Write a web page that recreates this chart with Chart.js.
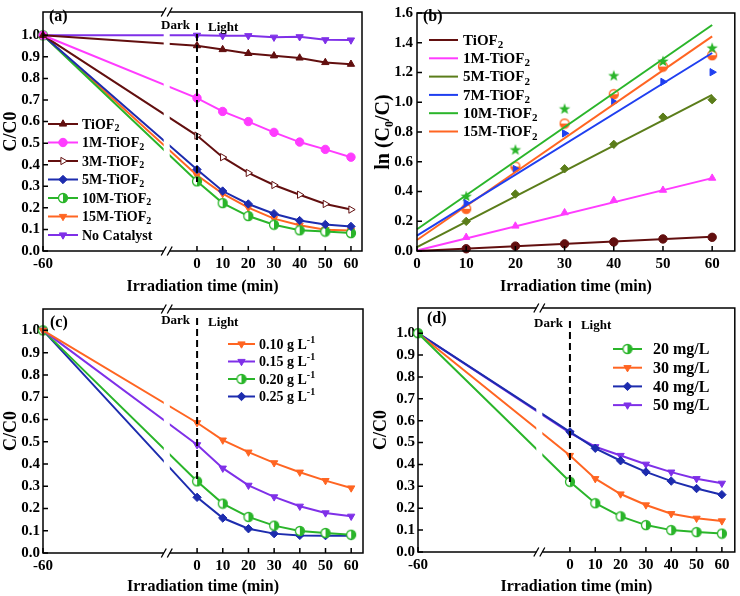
<!DOCTYPE html>
<html>
<head>
<meta charset="utf-8">
<script src="https://cdn.jsdelivr.net/npm/chart.js@4.4.1/dist/chart.umd.min.js"></script>
<style>
  body { margin: 0; background: #fff; }
  #wrap { position: relative; width: 740px; height: 596px; overflow: hidden; }
  canvas { position: absolute; }
</style>
</head>
<body>
<div id="wrap">
  <canvas id="pa" width="370" height="296" style="left:0;top:0"></canvas>
  <canvas id="pb" width="370" height="296" style="left:370px;top:0"></canvas>
  <canvas id="pc" width="370" height="300" style="left:0;top:296px"></canvas>
  <canvas id="pd" width="370" height="300" style="left:370px;top:296px"></canvas>
</div>
<script>
// ---- data ----
const timeX = [-60, 0, 10, 20, 30, 40, 50, 60];
const timeTicks = [-60, 0, 10, 20, 30, 40, 50, 60];
const ratioTicks = [0, 0.1, 0.2, 0.3, 0.4, 0.5, 0.6, 0.7, 0.8, 0.9, 1.0];

// (a) catalysts
const aLabels = ['TiOF_2', '1M-TiOF_2', '3M-TiOF_2', '5M-TiOF_2', '10M-TiOF_2', '15M-TiOF_2', 'No Catalyst'];
const aTiOF2 = [1.0, 0.952, 0.934, 0.916, 0.905, 0.895, 0.874, 0.866];
const a1M = [1.0, 0.709, 0.647, 0.600, 0.550, 0.505, 0.471, 0.435];
const a3M = [1.0, 0.535, 0.435, 0.362, 0.306, 0.261, 0.218, 0.192];
const a5M = [1.0, 0.378, 0.278, 0.218, 0.173, 0.141, 0.123, 0.114];
const a10M = [1.0, 0.323, 0.222, 0.162, 0.122, 0.096, 0.090, 0.083];
const a15M = [1.0, 0.351, 0.266, 0.201, 0.150, 0.119, 0.099, 0.095];
const aNoCat = [1.0, 1.0, 0.998, 0.998, 0.991, 0.993, 0.979, 0.978];

// (b) kinetics
const bLabels = ['TiOF_2', '1M-TiOF_2', '5M-TiOF_2', '7M-TiOF_2', '10M-TiOF_2', '15M-TiOF_2'];
const kinX = [10, 20, 30, 40, 50, 60];
const kinTicks = [0, 10, 20, 30, 40, 50, 60];
const lnTicks = [0, 0.2, 0.4, 0.6, 0.8, 1.0, 1.2, 1.4, 1.6];
const bTiOF2 = [0.015, 0.033, 0.048, 0.061, 0.081, 0.092];
const b1M = [0.092, 0.168, 0.258, 0.341, 0.409, 0.490];
const b5M = [0.199, 0.383, 0.553, 0.717, 0.900, 1.017];
const b7M = [0.321, 0.551, 0.791, 1.001, 1.137, 1.202];
const b10M = [0.369, 0.682, 0.957, 1.180, 1.277, 1.366];
const b15M = [0.284, 0.568, 0.857, 1.054, 1.240, 1.316];
const fitX = [0, 60];
const fitTiOF2 = [0.000, 0.096];
const fit1M = [0.004, 0.490];
const fit5M = [0.026, 1.049];
const fit7M = [0.103, 1.331];
const fit10M = [0.146, 1.519];
const fit15M = [0.074, 1.443];

// (c) dosage
const cLabels = ['0.10 g L^-1', '0.15 g L^-1', '0.20 g L^-1', '0.25 g L^-1'];
const c010 = [1.0, 0.585, 0.507, 0.453, 0.405, 0.363, 0.325, 0.292];
const c015 = [1.0, 0.486, 0.381, 0.304, 0.252, 0.210, 0.180, 0.165];
const c020 = [1.0, 0.322, 0.222, 0.162, 0.123, 0.099, 0.090, 0.082];
const c025 = [1.0, 0.250, 0.157, 0.109, 0.087, 0.079, 0.078, 0.078];

// (d) initial concentration
const dLabels = ['20 mg/L', '30 mg/L', '40 mg/L', '50 mg/L'];
const d20 = [1.0, 0.321, 0.223, 0.163, 0.123, 0.100, 0.091, 0.084];
const d30 = [1.0, 0.441, 0.335, 0.265, 0.215, 0.175, 0.154, 0.142];
const d40 = [1.0, 0.549, 0.474, 0.417, 0.366, 0.324, 0.290, 0.262];
const d50 = [1.0, 0.544, 0.481, 0.441, 0.401, 0.365, 0.335, 0.314];

// ---- styles ----
const MAROON = '#620f0f', MAGENTA = '#ff3cff', BLUE = '#1d2cae', BBLUE = '#1f3ff0';
const GREEN = '#2ab52a', ORANGE = '#ff6522', PURPLE = '#7f30e8', OLIVE = '#5b7d1a';
const FONT = 'Liberation Serif';

Chart.defaults.font.family = FONT;
Chart.defaults.font.weight = 'bold';
Chart.defaults.color = '#000';

function halfCircle(color, side) {
  const r = 4.5, c = document.createElement('canvas');
  c.width = c.height = 12;
  const g = c.getContext('2d');
  g.fillStyle = '#fff';
  g.beginPath(); g.arc(6, 6, r, 0, Math.PI * 2); g.fill();
  g.fillStyle = color;
  g.beginPath();
  if (side === 'right') g.arc(6, 6, r, -Math.PI / 2, Math.PI / 2);
  else g.arc(6, 6, r, 0, Math.PI);
  g.closePath(); g.fill();
  g.strokeStyle = color; g.lineWidth = 1.3;
  g.beginPath(); g.arc(6, 6, r, 0, Math.PI * 2); g.stroke();
  return c;
}

function starMark(color) {
  const c = document.createElement('canvas');
  c.width = c.height = 14;
  const g = c.getContext('2d');
  g.fillStyle = color;
  g.beginPath();
  for (let i = 0; i < 10; i++) {
    const r = i % 2 ? 2.4 : 6, a = -Math.PI / 2 + i * Math.PI / 5;
    g.lineTo(7 + r * Math.cos(a), 7.5 + r * Math.sin(a));
  }
  g.closePath(); g.fill();
  return c;
}

const mk = {
  up: { pointStyle: 'triangle', pointRotation: 0 },
  down: { pointStyle: 'triangle', pointRotation: 180 },
  right: { pointStyle: 'triangle', pointRotation: 90 },
  circle: { pointStyle: 'circle', pointRotation: 0 },
  diamond: { pointStyle: 'rectRot', pointRotation: 0 }
};

function series(label, xs, ys, color, marker, extra) {
  return Object.assign({
    label: label,
    data: xs.map((x, i) => ({ x: x, y: ys[i] })),
    borderColor: color,
    backgroundColor: color,
    pointBackgroundColor: color,
    pointBorderColor: color,
    borderWidth: 2,
    pointRadius: 4.2,
    pointBorderWidth: 1,
    tension: 0,
    clip: false
  }, marker, extra || {});
}

// text with _sub and ^sup
function richText(ctx, str, x, y, size) {
  const parts = str.split(/([_^])(\S+)/);
  let cx = x;
  for (let i = 0; i < parts.length; i++) {
    const p = parts[i];
    if (p === '_' || p === '^') {
      const t = parts[++i];
      ctx.font = 'bold ' + Math.round(size * 0.72) + 'px ' + FONT;
      ctx.fillText(t, cx, y + (p === '_' ? size * 0.28 : -size * 0.36));
      cx += ctx.measureText(t).width;
    } else if (p) {
      ctx.font = 'bold ' + size + 'px ' + FONT;
      ctx.fillText(p, cx, y);
      cx += ctx.measureText(p).width;
    }
  }
}

const decor = {
  id: 'decor',
  afterDatasetsDraw(chart, args, o) {
    const { ctx, chartArea: a, scales: { x, y } } = chart;
    ctx.save();
    ctx.strokeStyle = '#000';
    ctx.lineWidth = 1.5;
    ctx.strokeRect(a.left, a.top, a.right - a.left, a.bottom - a.top);
    ctx.beginPath();
    x.ticks.forEach(t => { const px = x.getPixelForValue(t.value); ctx.moveTo(px, a.bottom); ctx.lineTo(px, a.bottom - 5); });
    y.ticks.forEach(t => { const py = y.getPixelForValue(t.value); ctx.moveTo(a.left, py); ctx.lineTo(a.left + 5, py); });
    ctx.stroke();

    ctx.fillStyle = '#000';
    ctx.textBaseline = 'middle';
    if (o.breakAt !== undefined) {
      const bx = x.getPixelForValue(o.breakAt);
      ctx.fillStyle = '#fff';
      ctx.fillRect(bx - 3, a.top - 3, 6, a.bottom - a.top + 6);
      ctx.lineWidth = 1.3;
      ctx.beginPath();
      [a.top, a.bottom].forEach(yy => [-3, 3].forEach(d => {
        ctx.moveTo(bx + d - 2.5, yy + 4.5); ctx.lineTo(bx + d + 2.5, yy - 4.5);
      }));
      ctx.stroke();
      // dark / light divider
      const x0 = x.getPixelForValue(0);
      ctx.setLineDash([7, 4]);
      ctx.lineWidth = 2;
      ctx.beginPath();
      ctx.moveTo(x0, a.top + o.darkY - 3);
      ctx.lineTo(x0, y.getPixelForValue(0.32));
      ctx.stroke();
      ctx.setLineDash([]);
      ctx.fillStyle = '#000';
      ctx.font = 'bold 13px ' + FONT;
      ctx.textAlign = 'right';
      ctx.fillText('Dark', x0 - 7, a.top + o.darkY);
      ctx.textAlign = 'left';
      ctx.fillText('Light', x0 + 11, a.top + o.darkY + 2);
    }
    ctx.fillStyle = '#000';
    ctx.textAlign = 'left';
    ctx.font = 'bold 16px ' + FONT;
    ctx.fillText(o.tag, o.tagX, o.tagY);

    // legend
    const L = o.legend;
    chart.data.datasets.filter(ds => ds.inLegend).forEach((ds, i) => {
      const yy = L.y0 + i * L.dy;
      ctx.strokeStyle = ds.borderColor;
      ctx.lineWidth = 2;
      ctx.beginPath(); ctx.moveTo(L.x0, yy); ctx.lineTo(L.x1, yy); ctx.stroke();
      if (L.markers) {
        ctx.fillStyle = ds.pointBackgroundColor;
        ctx.strokeStyle = ds.pointBorderColor;
        ctx.lineWidth = 1;
        Chart.helpers.drawPoint(ctx, { pointStyle: ds.pointStyle, radius: 4.2, rotation: ds.pointRotation, borderWidth: 1 }, (L.x0 + L.x1) / 2, yy);
      }
      ctx.fillStyle = '#000';
      richText(ctx, ds.label, L.tx, yy + 1, L.size);
    });
    ctx.restore();
  }
};

function panel(id, datasets, p) {
  new Chart(document.getElementById(id), {
    type: 'line',
    data: { datasets: datasets },
    plugins: [decor],
    options: {
      responsive: false,
      animation: false,
      devicePixelRatio: 1,
      layout: { padding: { top: p.padTop, right: p.padRight, left: 0, bottom: 0 } },
      plugins: { legend: { display: false }, tooltip: { enabled: false }, decor: p.decor },
      scales: {
        x: {
          type: 'linear', min: p.xMin, max: p.xMax,
          grid: { display: false, drawTicks: false }, border: { display: false },
          afterBuildTicks: s => { s.ticks = p.xTicks.map(v => ({ value: v })); },
          afterFit: s => { s.height = p.xH; },
          ticks: { font: { size: 15, weight: 'bold' }, padding: 4, maxRotation: 0, autoSkip: false, callback: v => String(v) },
          title: { display: true, text: 'Irradiation time (min)', font: { size: 16, weight: 'bold' }, padding: { top: 0, bottom: 0 } }
        },
        y: {
          type: 'linear', min: 0, max: p.yMax,
          grid: { display: false, drawTicks: false }, border: { display: false },
          afterBuildTicks: s => { s.ticks = p.yTicks.map(v => ({ value: v })); },
          afterFit: s => { s.width = p.yW; },
          ticks: { font: { size: 15, weight: 'bold' }, padding: p.yTickPad, callback: v => v.toFixed(1) },
          title: { display: true, text: p.yTitle, font: { size: p.yTitleSize, weight: 'bold' }, padding: { top: p.yTitlePad, bottom: 0 } }
        }
      }
    }
  });
}

const L = { inLegend: true };

// (a)
panel('pa', [
  series(aLabels[0], timeX, aTiOF2, MAROON, mk.up, L),
  series(aLabels[1], timeX, a1M, MAGENTA, mk.circle, L),
  series(aLabels[2], timeX, a3M, MAROON, mk.right, { inLegend: true, pointBackgroundColor: '#fff' }),
  series(aLabels[3], timeX, a5M, BLUE, mk.diamond, L),
  series(aLabels[4], timeX, a10M, GREEN, { pointStyle: halfCircle(GREEN, 'right'), pointRotation: 0 }, L),
  series(aLabels[5], timeX, a15M, ORANGE, mk.down, L),
  series(aLabels[6], timeX, aNoCat, PURPLE, mk.down, L)
], {
  padTop: 5, padRight: 8, xH: 45, yW: 43, xMin: -60, xMax: 64.3, yMax: 1.108,
  xTicks: timeTicks, yTicks: ratioTicks, yTitle: 'C/C0', yTitleSize: 18, yTitlePad: 1, yTickPad: 3,
  decor: { tag: '(a)', tagX: 49, tagY: 17, breakAt: -11.8, darkY: 14,
    legend: { x0: 48, x1: 78, tx: 82, y0: 124, dy: 18.5, size: 14, markers: true } }
});

// (b)
const fit = { pointRadius: 0, borderWidth: 2, inLegend: true };
const dots = { showLine: false, inLegend: false };
panel('pb', [
  series(bLabels[0], fitX, fitTiOF2, MAROON, mk.circle, fit),
  series(bLabels[1], fitX, fit1M, MAGENTA, mk.circle, fit),
  series(bLabels[2], fitX, fit5M, OLIVE, mk.circle, fit),
  series(bLabels[3], fitX, fit7M, BBLUE, mk.circle, fit),
  series(bLabels[4], fitX, fit10M, GREEN, mk.circle, fit),
  series(bLabels[5], fitX, fit15M, ORANGE, mk.circle, fit),
  series('', kinX, bTiOF2, MAROON, mk.circle, dots),
  series('', kinX, b1M, MAGENTA, mk.up, dots),
  series('', kinX, b5M, OLIVE, mk.diamond, dots),
  series('', kinX, b7M, BBLUE, mk.right, dots),
  series('', kinX, b10M, GREEN, { pointStyle: starMark(GREEN), pointRotation: 0 }, dots),
  series('', kinX, b15M, ORANGE, { pointStyle: halfCircle(ORANGE, 'bottom'), pointRotation: 0 }, dots)
], {
  padTop: 7, padRight: 3, xH: 45, yW: 47, xMin: 0, xMax: 64.6, yMax: 1.6,
  xTicks: kinTicks, yTicks: lnTicks, yTitle: 'ln (C\u2080/C)', yTitleSize: 20, yTitlePad: 2, yTickPad: 4,
  decor: { tag: '(b)', tagX: 53, tagY: 17,
    legend: { x0: 59, x1: 88, tx: 93, y0: 40, dy: 18.3, size: 15, markers: false } }
});

// (c)
panel('pc', [
  series(cLabels[0], timeX, c010, ORANGE, mk.down, L),
  series(cLabels[1], timeX, c015, PURPLE, mk.down, L),
  series(cLabels[2], timeX, c020, GREEN, { pointStyle: halfCircle(GREEN, 'right'), pointRotation: 0 }, L),
  series(cLabels[3], timeX, c025, BLUE, mk.diamond, L)
], {
  padTop: 13, padRight: 7, xH: 43, yW: 43, xMin: -60, xMax: 64.6, yMax: 1.096,
  xTicks: timeTicks, yTicks: ratioTicks, yTitle: 'C/C0', yTitleSize: 18, yTitlePad: 1, yTickPad: 3,
  decor: { tag: '(c)', tagX: 50, tagY: 27, breakAt: -11.8, darkY: 12,
    legend: { x0: 228, x1: 255, tx: 259, y0: 48, dy: 17.5, size: 14, markers: true } }
});

// (d)
panel('pd', [
  series(dLabels[0], timeX, d20, GREEN, { pointStyle: halfCircle(GREEN, 'right'), pointRotation: 0 }, L),
  series(dLabels[1], timeX, d30, ORANGE, mk.down, L),
  series(dLabels[2], timeX, d40, BLUE, mk.diamond, L),
  series(dLabels[3], timeX, d50, PURPLE, mk.down, L)
], {
  padTop: 7, padRight: 3, xH: 44, yW: 48, xMin: -60, xMax: 65.1, yMax: 1.115,
  xTicks: timeTicks, yTicks: ratioTicks, yTitle: 'C/C0', yTitleSize: 18, yTitlePad: 1, yTickPad: 3,
  decor: { tag: '(d)', tagX: 57, tagY: 23, breakAt: -12.1, darkY: 16,
    legend: { x0: 243, x1: 272, tx: 283, y0: 53, dy: 18.7, size: 16, markers: true } }
});
</script>
</body>
</html>
